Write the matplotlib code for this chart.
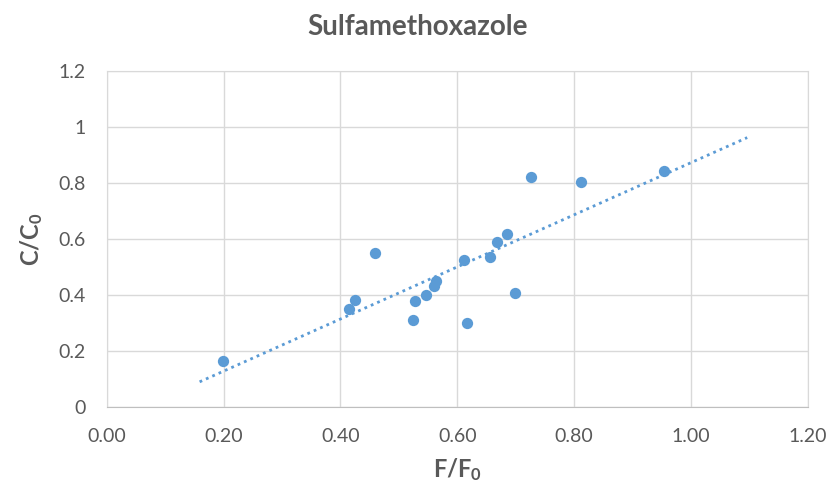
import numpy as np
import matplotlib
matplotlib.use("Agg")
import matplotlib.pyplot as plt

# F/F0 vs C/C0 for sulfamethoxazole
f_ratio = [0.199, 0.414, 0.425, 0.459, 0.524, 0.527, 0.547, 0.560, 0.564,
           0.611, 0.616, 0.656, 0.668, 0.685, 0.699, 0.726, 0.812, 0.953]
c_ratio = [0.165, 0.352, 0.383, 0.549, 0.312, 0.380, 0.402, 0.431, 0.452,
           0.526, 0.299, 0.537, 0.588, 0.617, 0.408, 0.823, 0.805, 0.842]
trend_range = [0.159, 1.096]

plt.rcParams['font.family'] = ['Lato', 'DejaVu Sans']
plt.rcParams['mathtext.default'] = 'regular'
grey = '#595959'
blue = '#5B9BD5'

fig = plt.figure(figsize=(8.27, 4.93), dpi=100)
ax = fig.add_axes([0.129, 0.174, 0.848, 0.682])

slope, icpt = np.polyfit(f_ratio, c_ratio, 1)
xt = np.array(trend_range)
ax.plot(xt, slope*xt + icpt, linestyle=(0, (1, 1.5)), color=blue, lw=2, zorder=2)
ax.scatter(f_ratio, c_ratio, s=66, color=blue, zorder=3, linewidths=0)

ax.set_xlim(0, 1.2)
ax.set_ylim(0, 1.2)
ax.set_xticks(np.arange(0, 1.21, 0.2))
ax.set_yticks(np.arange(0, 1.21, 0.2))
ax.set_xticklabels(['%.2f' % v for v in np.arange(0, 1.21, 0.2)])
ax.set_yticklabels(['0', '0.2', '0.4', '0.6', '0.8', '1', '1.2'])
ax.tick_params(length=0, labelsize=14, colors=grey)
ax.tick_params(axis='x', pad=15)
ax.tick_params(axis='y', pad=15)
ax.grid(color='#D9D9D9', lw=1)
ax.set_axisbelow(True)
for s in ax.spines.values():
    s.set_color('#D9D9D9')
ax.spines['bottom'].set_color('#BFBFBF')

fig.suptitle('Sulfamethoxazole', x=0.505, y=0.972, fontsize=20, fontweight='bold', color=grey)
ax.set_xlabel('F/F$_0$', fontsize=17, fontweight='bold', color=grey, labelpad=8)
ax.set_ylabel('C/C$_0$', fontsize=17, fontweight='bold', color=grey, labelpad=10)

fig.savefig('out.png')
